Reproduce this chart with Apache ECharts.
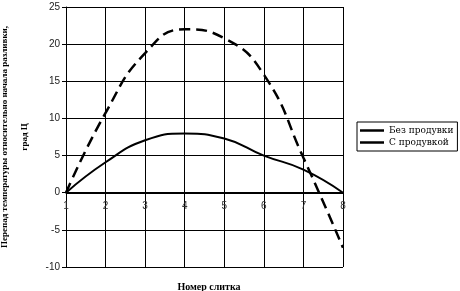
<!DOCTYPE html>
<html>
<head>
<meta charset="utf-8">
<script src="https://cdn.jsdelivr.net/npm/echarts@6/dist/echarts.min.js"></script>
<style>html,body{margin:0;padding:0;background:#fff;}#c{width:460px;height:291px;}</style>
</head>
<body>
<div id="c"></div>
<script>
const xValues = [1, 2, 3, 4, 5, 6, 7, 8];
const noBlow = [0, 10.75, 18.8, 22.0, 20.8, 15.9, 4.7, -7.4];
const withBlow = [0, 4.1, 7.06, 7.96, 7.3, 5.0, 3.1, 0];
const seriesNames = ['Без продувки', 'С продувкой'];
const xName = 'Номер слитка';
const yName = 'Перепад температуры относительно начала разливки,\nград Ц';

const chart = echarts.init(document.getElementById('c'), null, {renderer: 'canvas'});
chart.setOption({
  animation: false,
  backgroundColor: '#fff',
  color: ['#000', '#000'],
  grid: {left: 66, right: 117, top: 7, bottom: 24, containLabel: false, outerBoundsMode: 'none'},
  title: {
    text: xName, left: 204, top: 277, textAlign: 'center',
    textStyle: {fontFamily: 'Liberation Serif', fontSize: 10, fontWeight: 'bold', color: '#000'}
  },
  legend: {
    orient: 'vertical', left: 357, top: 122,
    borderColor: '#000', borderWidth: 1, padding: [4, 4, 4, 3],
    itemWidth: 24, itemHeight: 2.5, itemGap: 3,
    icon: 'rect',
    itemStyle: {color: '#000', borderWidth: 0},
    lineStyle: {type: 'solid', color: '#000', width: 2},
    textStyle: {fontFamily: 'DejaVu Serif', fontSize: 9, color: '#000'},
    data: seriesNames
  },
  xAxis: {
    type: 'value', min: 1, max: 8, interval: 1,
    offset: -74,
    axisLine: {onZero: false, lineStyle: {color: '#000', width: 1}},
    axisTick: {show: false},
    axisLabel: {fontFamily: 'Liberation Sans', fontSize: 10, color: '#333', margin: 8},
    splitLine: {show: true, lineStyle: {color: '#000', width: 1}}
  },
  yAxis: {
    type: 'value', min: -10, max: 25, interval: 5,
    name: yName, nameLocation: 'middle', nameRotate: 90, nameGap: 29,
    nameTextStyle: {fontFamily: 'Liberation Serif', fontSize: 9, fontWeight: 'bold', color: '#000', lineHeight: 20, align: 'center'},
    axisLine: {show: true, lineStyle: {color: '#000', width: 1}},
    axisTick: {show: true, length: 4, lineStyle: {color: '#000'}},
    axisLabel: {fontFamily: 'Liberation Sans', fontSize: 10, color: '#222', margin: 6},
    splitLine: {show: true, lineStyle: {color: '#000', width: 1}}
  },
  series: [
    {
      name: seriesNames[0], type: 'line', smooth: 0.5, symbol: 'none',
      data: xValues.map((x, i) => [x, noBlow[i]]),
      itemStyle: {color: '#000'},
      lineStyle: {color: '#000', width: 2.5, type: [11, 6]}, z: 3
    },
    {
      name: seriesNames[1], type: 'line', smooth: 0.5, symbol: 'none',
      data: xValues.map((x, i) => [x, withBlow[i]]),
      itemStyle: {color: '#000'},
      lineStyle: {color: '#000', width: 2, type: 'solid'}, z: 3
    }
  ]
});
</script>
</body>
</html>
